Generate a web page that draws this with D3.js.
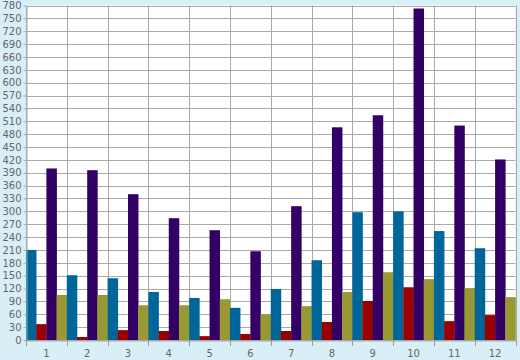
<!DOCTYPE html>
<html><head><meta charset="utf-8">
<script src="https://cdn.jsdelivr.net/npm/d3@7"></script>
<style>body{margin:0;background:#d9eff7;}svg{display:block;}</style>
</head><body>
<svg id="c" width="520" height="360"></svg>
<script>
const categories = ["1","2","3","4","5","6","7","8","9","10","11","12"];
const seriesNames = ["blue","red","purple","olive"];
const blueVals   = [210,151,144,112,98,75,119,186,298,300,254,214];
const redVals    = [37,7,23,21,9,14,21,42,91,123,44,58];
const purpleVals = [400,396,340,284,256,207,312,496,524,773,500,421];
const oliveVals  = [105,105,81,81,95,60,79,112,158,142,121,100];
const colors = ["#006699","#990000","#330066","#999933"];
const yTicks = d3.range(0, 781, 30);

const svg = d3.select("#c");
const L = 26, R = 515.5, T = 5.5, B = 340;
const x = d3.scaleBand().domain(categories).range([L, R]);
const xs = d3.scaleBand().domain(seriesNames).range([0, x.bandwidth()]);
const y = d3.scaleLinear().domain([0, 780]).range([B, T]);
const data = [blueVals, redVals, purpleVals, oliveVals];

svg.append("rect").attr("x", L).attr("y", T).attr("width", R - L).attr("height", B - T).attr("fill", "#fff");

// horizontal grid
svg.append("g").selectAll("line").data(yTicks).join("line")
  .attr("x1", L).attr("x2", R).attr("y1", d => Math.round(y(d)) + 0.5).attr("y2", d => Math.round(y(d)) + 0.5)
  .attr("stroke", "#aaa");
// vertical grid
svg.append("g").selectAll("line").data(categories.concat(["end"])).join("line")
  .attr("x1", (d, i) => Math.round(L + i * x.step()) + 0.5).attr("x2", (d, i) => Math.round(L + i * x.step()) + 0.5)
  .attr("y1", T).attr("y2", B).attr("stroke", "#aaa");

// bars
const g = svg.append("g");
categories.forEach((c, i) => {
  seriesNames.forEach((s, k) => {
    const v = data[k][i];
    g.append("rect")
      .attr("x", x(c) + xs(s)).attr("width", xs.bandwidth() + 0.3)
      .attr("y", y(v)).attr("height", B - y(v))
      .attr("fill", colors[k]);
  });
});

// y axis
const ya = svg.append("g").attr("transform", `translate(${L + 0.5},0)`)
  .call(d3.axisLeft(y).tickValues(yTicks).tickSize(3).tickPadding(2).tickSizeOuter(0));
ya.select(".domain").attr("stroke", "#aaa");
ya.selectAll(".tick line").attr("stroke", "#aaa");
ya.selectAll("text").attr("fill", "#666").style("font", "10px 'DejaVu Sans', Verdana, sans-serif");

// x axis
const xa = svg.append("g").attr("transform", `translate(0,${B + 0.5})`)
  .call(d3.axisBottom(x).tickSize(0).tickPadding(9).tickSizeOuter(0));
xa.select(".domain").attr("stroke", "#aaa");
xa.selectAll("text").attr("fill", "#666").style("font", "10px 'DejaVu Sans', Verdana, sans-serif");
svg.append("g").selectAll("line").data(categories.concat(["end"])).join("line")
  .attr("x1", (d, i) => Math.round(L + i * x.step()) + 0.5).attr("x2", (d, i) => Math.round(L + i * x.step()) + 0.5)
  .attr("y1", B).attr("y2", B + 6).attr("stroke", "#999");
</script>
</body></html>
